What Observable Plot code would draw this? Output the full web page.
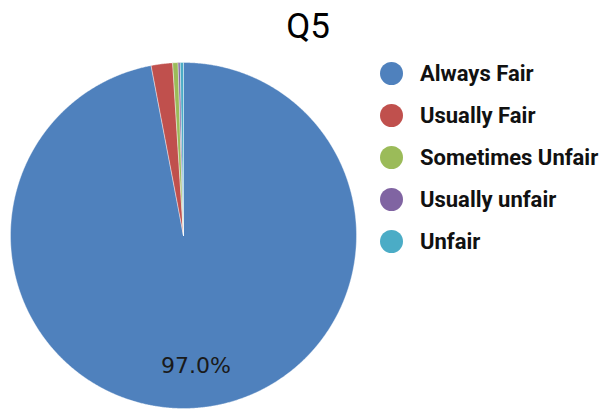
<!DOCTYPE html>
<html>
<head>
<meta charset="utf-8">
<script src="https://cdn.jsdelivr.net/npm/d3@7"></script>
<script src="https://cdn.jsdelivr.net/npm/@observablehq/plot@0.6"></script>
<style>
  html, body { margin: 0; padding: 0; background: #fff; }
  #wrap { position: relative; width: 609px; height: 409px; overflow: hidden; }
  #title { position: absolute; left: 258px; width: 100px; top: 6px; text-align: center;
    font-family: Roboto, sans-serif; font-size: 35px; color: #000; }
  #legend { position: absolute; left: 380px; top: 52px; font-family: Roboto, sans-serif; white-space: nowrap; }
  .row { display: flex; align-items: center; height: 42px; }
  .sw { width: 23px; height: 23px; border-radius: 50%; margin-right: 17px; }
  .lab { font-size: 22px; font-weight: bold; color: #111; }
  #chart svg { display: block; }
</style>
</head>
<body>
<div id="wrap">
  <div id="chart"></div>
  <div id="title"></div>
  <div id="legend"></div>
</div>
<script>
const title = "Q5";
const categories = ["Always Fair", "Usually Fair", "Sometimes Unfair", "Usually unfair", "Unfair"];
const values = [97.0, 2.0, 0.5, 0.2, 0.3];
const colors = ["#4f81bd", "#c0504d", "#9bbb59", "#8064a2", "#4bacc6"];
const labels = ["97.0%", "", "", "", ""];

const data = categories.map((c, i) => ({category: c, value: values[i]}));
const arcs = d3.pie().value(d => d.value).sort(null)(data);

// polygon vertices for each slice (unit circle, angle measured clockwise from top)
const poly = [];
arcs.forEach(a => {
  const c = a.data.category;
  poly.push({category: c, x: 0, y: 0});
  const n = Math.max(2, Math.ceil((a.endAngle - a.startAngle) / 0.005));
  for (let k = 0; k <= n; k++) {
    const t = a.startAngle + (a.endAngle - a.startAngle) * k / n;
    poly.push({category: c, x: Math.sin(t), y: Math.cos(t)});
  }
  poly.push({category: c, x: 0, y: 0});
});
const labelData = arcs.filter((a, i) => labels[i]).map(a => {
  const m = (a.startAngle + a.endAngle) / 2;
  return {text: labels[arcs.indexOf(a)], x: 0.76 * Math.sin(m), y: 0.76 * Math.cos(m)};
});

const chart = Plot.plot({
  width: 609, height: 409,
  margin: 0,
  x: {domain: [-1, 1], range: [10, 356], axis: null},
  y: {domain: [-1, 1], range: [408, 62], axis: null},
  color: {domain: categories, range: colors},
  marks: [
    Plot.line(poly, {x: "x", y: "y", z: "category", fill: "category", stroke: "white", strokeWidth: 0.4, curve: "linear"}),
    Plot.text(labelData, {x: "x", y: "y", text: "text", fontSize: 22, fill: "#1a1a1a", fontFamily: "DejaVu Sans, sans-serif"})
  ]
});
document.getElementById("chart").appendChild(chart);
document.getElementById("title").textContent = title;

const legend = document.getElementById("legend");
categories.forEach((c, i) => {
  const row = document.createElement("div");
  row.className = "row";
  const sw = document.createElement("div");
  sw.className = "sw";
  sw.style.background = colors[i];
  const lab = document.createElement("div");
  lab.className = "lab";
  lab.textContent = c;
  row.appendChild(sw); row.appendChild(lab);
  legend.appendChild(row);
});
</script>
</body>
</html>
